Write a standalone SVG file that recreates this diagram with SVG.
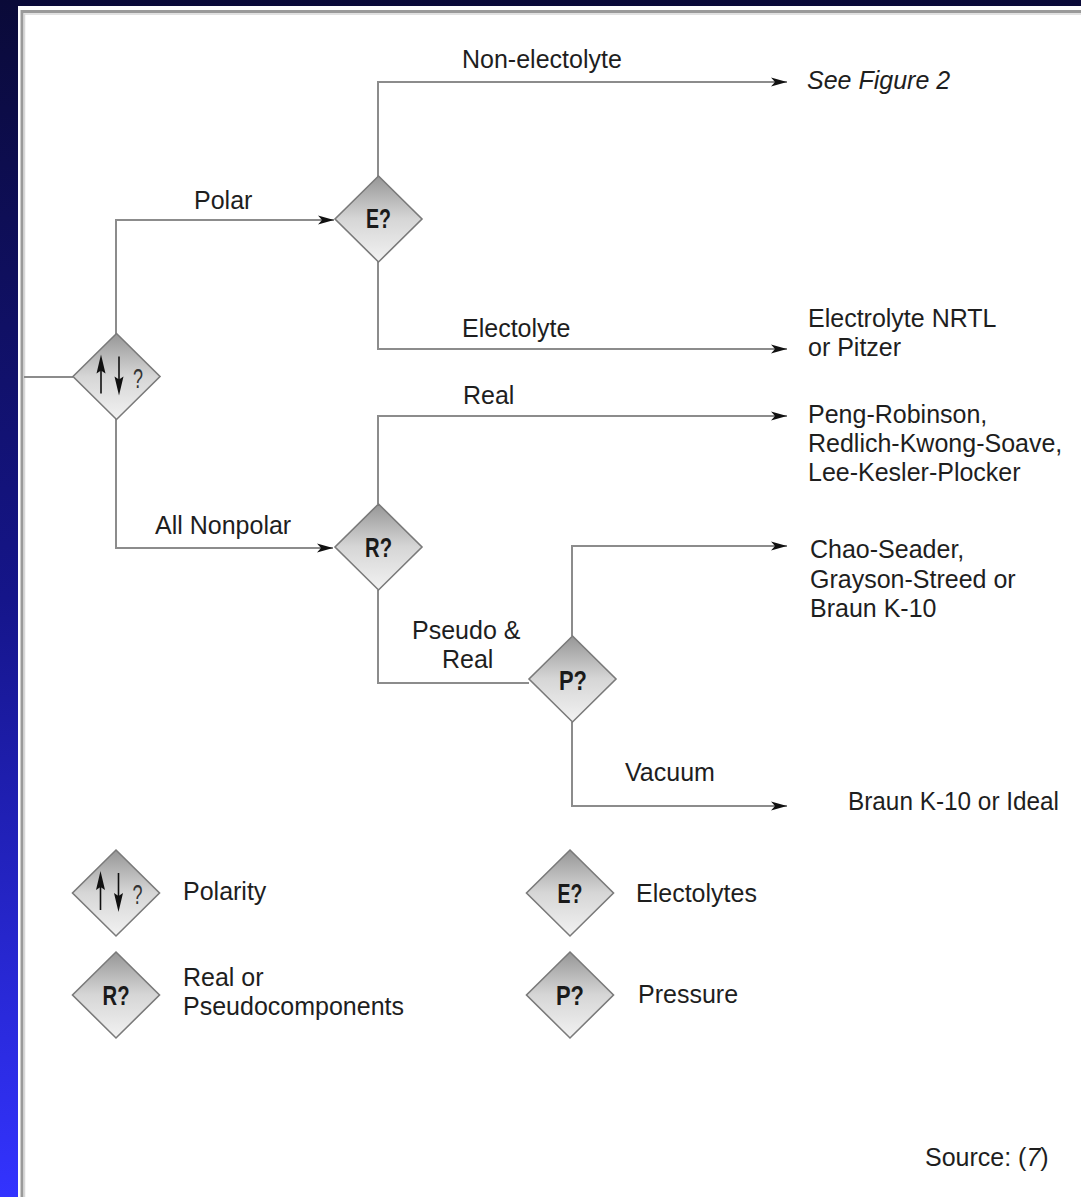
<svg xmlns="http://www.w3.org/2000/svg" xmlns:xlink="http://www.w3.org/1999/xlink" width="1081" height="1197" viewBox="0 0 1081 1197">
<defs>
<linearGradient id="bg" x1="0" y1="0" x2="0" y2="1">
<stop offset="0" stop-color="#0a0a38"/>
<stop offset="0.5" stop-color="#15158a"/>
<stop offset="1" stop-color="#3333ff"/>
</linearGradient>
<linearGradient id="dg" x1="0" y1="0" x2="0" y2="1">
<stop offset="0" stop-color="#969696"/>
<stop offset="0.5" stop-color="#d6d6d6"/>
<stop offset="1" stop-color="#f2f2f2"/>
</linearGradient>
<marker id="ah" markerUnits="userSpaceOnUse" markerWidth="18" markerHeight="12" refX="16" refY="6" orient="auto">
<path d="M0,1.5 L16,6 L0,10.5 L4,6 Z" fill="#111"/>
</marker>
<polygon id="dia" points="0,-43 43.5,0 0,43 -43.5,0"/>
<g id="pol">
<line x1="-15.5" y1="17" x2="-15.5" y2="-8" stroke="#111" stroke-width="1.6"/>
<path d="M-15.5,-22 L-20,-3 L-15.5,-6 L-11,-3 Z" fill="#111"/>
<line x1="2.5" y1="-20" x2="2.5" y2="5" stroke="#111" stroke-width="1.6"/>
<path d="M2.5,19 L-2,0 L2.5,3 L7,0 Z" fill="#111"/>
<text x="16.5" y="11" class="q" textLength="10" lengthAdjust="spacingAndGlyphs">?</text>
</g>
</defs>
<style>
.d{fill:url(#dg);stroke:#7a7a7a;stroke-width:1.6}
.t{font-family:"Liberation Sans",Arial,sans-serif;font-size:25px;fill:#1e1e1e}
.it{font-style:italic}
.dl{font-family:"Liberation Sans",Arial,sans-serif;font-size:28px;font-weight:bold;fill:#1a1a1a;text-anchor:middle}
.q{font-family:"Liberation Sans",Arial,sans-serif;font-size:28px;fill:#333}
.c{fill:none;stroke:#8c8c8c;stroke-width:2}
</style>
<rect x="0" y="0" width="1081" height="1197" fill="url(#bg)"/>
<rect x="18" y="6" width="1063" height="1191" fill="#ffffff"/>
<path d="M22,1197 V11.5 H1081" fill="none" stroke="#9a9a9a" stroke-width="3"/>
<path d="M24.5,1197 V14 H1081" fill="none" stroke="#d8d8d8" stroke-width="1.5"/>

<g id="connectors">
<path class="c" d="M24,377 H73"/>
<path class="c" d="M116,334 V220 H334" marker-end="url(#ah)"/>
<path class="c" d="M378,177 V82 H787" marker-end="url(#ah)"/>
<path class="c" d="M378,261 V349 H787" marker-end="url(#ah)"/>
<path class="c" d="M116,419 V548 H333" marker-end="url(#ah)"/>
<path class="c" d="M378,504 V416 H787" marker-end="url(#ah)"/>
<path class="c" d="M378,590 V683 H529"/>
<path class="c" d="M572,636 V546 H787" marker-end="url(#ah)"/>
<path class="c" d="M572,722 V806 H787" marker-end="url(#ah)"/>
</g>

<g id="node-polarity">
<use xlink:href="#dia" href="#dia" class="d" x="116.5" y="376.5"/>
<use xlink:href="#pol" href="#pol" x="116.5" y="376.5"/>
</g>
<g id="node-e">
<use xlink:href="#dia" href="#dia" class="d" x="378.5" y="219"/>
<text class="dl" x="378.5" y="228" textLength="25" lengthAdjust="spacingAndGlyphs">E?</text>
</g>
<g id="node-r">
<use xlink:href="#dia" href="#dia" class="d" x="378.5" y="547"/>
<text class="dl" x="378.5" y="557" textLength="27" lengthAdjust="spacingAndGlyphs">R?</text>
</g>
<g id="node-p">
<use xlink:href="#dia" href="#dia" class="d" x="572.5" y="679"/>
<text class="dl" x="573" y="690" textLength="28" lengthAdjust="spacingAndGlyphs">P?</text>
</g>

<g id="labels">
<text class="t" x="462" y="68">Non-electolyte</text>
<text class="t" x="194" y="209">Polar</text>
<text class="t it" x="807" y="89">See Figure 2</text>
<text class="t" x="462" y="337">Electolyte</text>
<text class="t" x="808" y="327">Electrolyte NRTL</text>
<text class="t" x="808" y="356">or Pitzer</text>
<text class="t" x="463" y="404">Real</text>
<text class="t" x="808" y="423">Peng-Robinson,</text>
<text class="t" x="808" y="452">Redlich-Kwong-Soave,</text>
<text class="t" x="808" y="481">Lee-Kesler-Plocker</text>
<text class="t" x="155" y="534">All Nonpolar</text>
<text class="t" x="412" y="639">Pseudo &amp;</text>
<text class="t" x="442" y="668">Real</text>
<text class="t" x="810" y="558">Chao-Seader,</text>
<text class="t" x="810" y="588">Grayson-Streed or</text>
<text class="t" x="810" y="617">Braun K-10</text>
<text class="t" x="625" y="781">Vacuum</text>
<text class="t" x="848" y="810" textLength="211" lengthAdjust="spacingAndGlyphs">Braun K-10 or Ideal</text>
</g>

<g id="legend">
<g id="leg-polarity">
<use xlink:href="#dia" href="#dia" class="d" x="116" y="893"/>
<use xlink:href="#pol" href="#pol" x="116" y="893"/>
<text class="t" x="183" y="900">Polarity</text>
</g>
<g id="leg-e">
<use xlink:href="#dia" href="#dia" class="d" x="570" y="893"/>
<text class="dl" x="570" y="903" textLength="25" lengthAdjust="spacingAndGlyphs">E?</text>
<text class="t" x="636" y="902">Electolytes</text>
</g>
<g id="leg-r">
<use xlink:href="#dia" href="#dia" class="d" x="116" y="995"/>
<text class="dl" x="116" y="1005" textLength="27" lengthAdjust="spacingAndGlyphs">R?</text>
<text class="t" x="183" y="986">Real or</text>
<text class="t" x="183" y="1015">Pseudocomponents</text>
</g>
<g id="leg-p">
<use xlink:href="#dia" href="#dia" class="d" x="570" y="995"/>
<text class="dl" x="570" y="1005" textLength="28" lengthAdjust="spacingAndGlyphs">P?</text>
<text class="t" x="638" y="1003">Pressure</text>
</g>
</g>

<text class="t" x="925" y="1166">Source: (<tspan class="it">7</tspan>)</text>
</svg>
